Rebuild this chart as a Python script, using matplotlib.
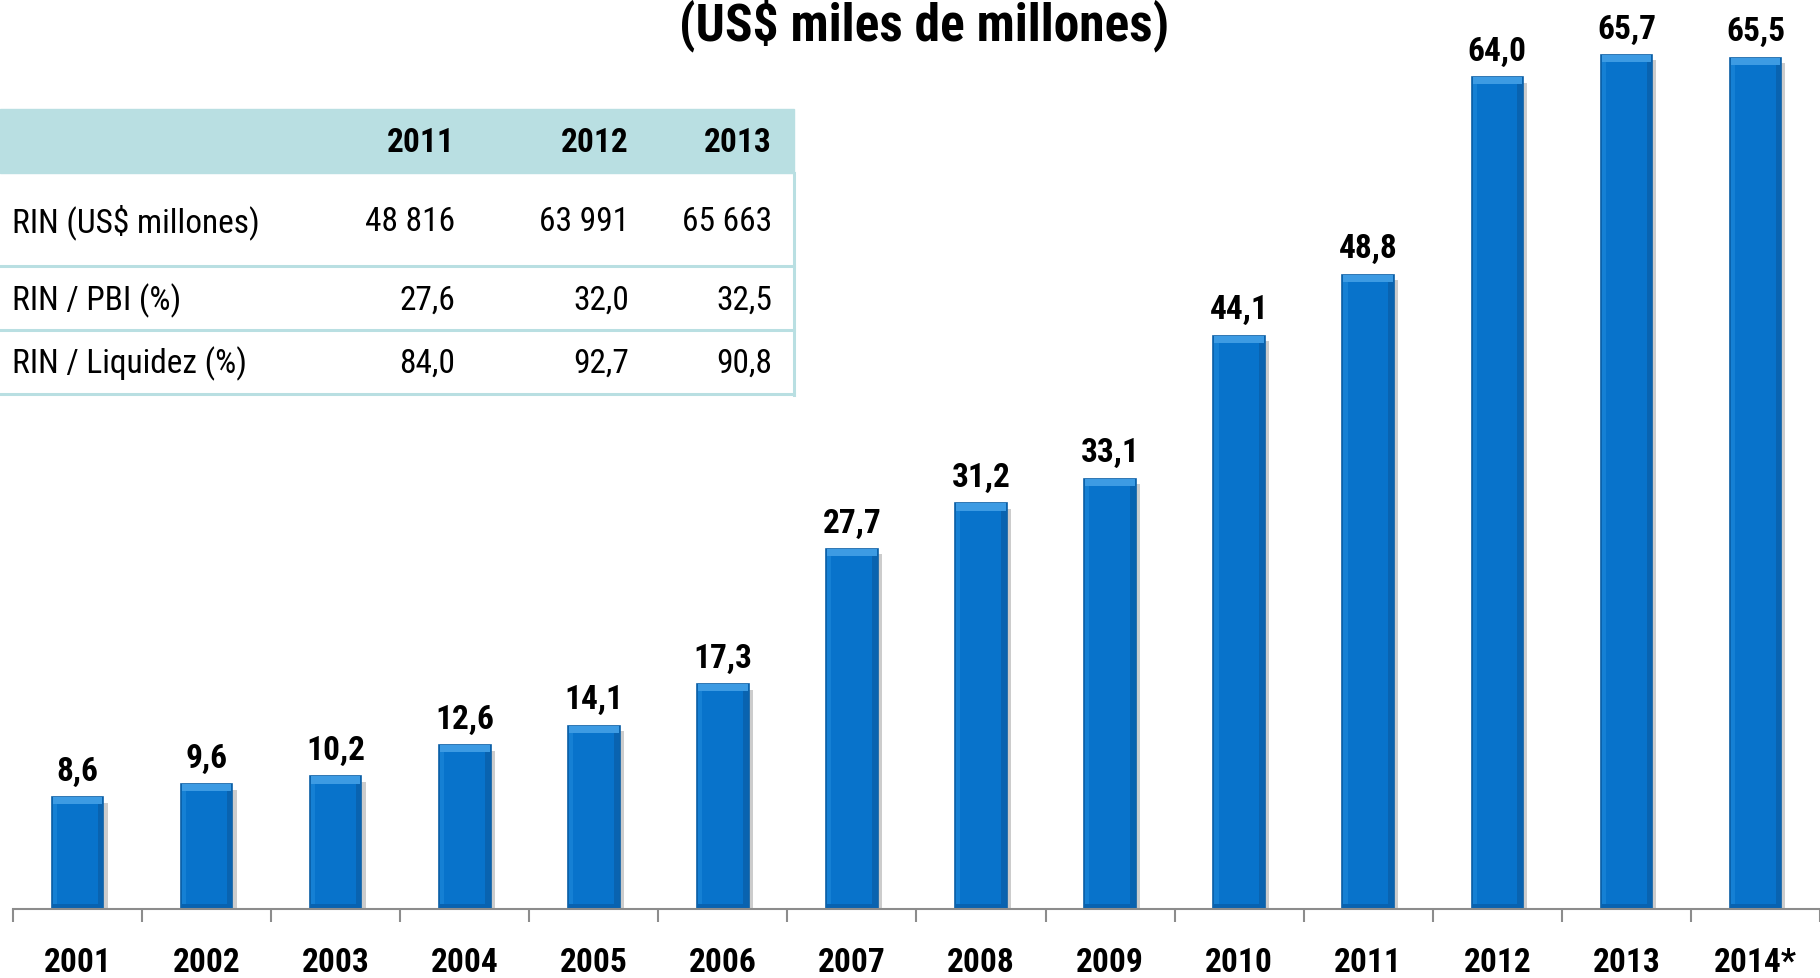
import matplotlib
matplotlib.use("Agg")
import os
import matplotlib.pyplot as plt
import matplotlib.patheffects as pe
from matplotlib.patches import Rectangle
from matplotlib.lines import Line2D
from matplotlib import font_manager
from matplotlib.font_manager import FontProperties

# --- data -------------------------------------------------------------
years = ["2001", "2002", "2003", "2004", "2005", "2006", "2007",
         "2008", "2009", "2010", "2011", "2012", "2013", "2014*"]
reserves = [8.6, 9.6, 10.2, 12.6, 14.1, 17.3, 27.7,
            31.2, 33.1, 44.1, 48.8, 64.0, 65.7, 65.5]

table_years = ["2011", "2012", "2013"]
table_labels = ["RIN (US$ millones)", "RIN / PBI (%)", "RIN / Liquidez (%)"]
rin_millones = ["48 816", "63 991", "65 663"]
rin_pbi = ["27,6", "32,0", "32,5"]
rin_liquidez = ["84,0", "92,7", "90,8"]

title = "(US$ miles de millones)"

# --- fonts: prefer a narrow sans face -------------------------------
files = [f.fname for f in font_manager.fontManager.ttflist]


def pick(patterns):
    for pat in patterns:
        for fn in files:
            if os.path.basename(fn).lower().replace("_", "").replace("-", "") == pat:
                return fn
    return None


bold_file = pick(["liberationsansnarrowbold.ttf", "robotocondensedbold.ttf",
                  "opensanscondensedbold.ttf", "dejavusanscondensedbold.ttf"])
reg_file = pick(["liberationsansnarrowregular.ttf", "robotocondensedregular.ttf",
                 "opensanscondensedlight.ttf", "dejavusanscondensed.ttf"])


def fp(size, bold=False):
    f = bold_file if bold else reg_file
    if f:
        return FontProperties(fname=f, size=size)
    return FontProperties(family="DejaVu Sans", size=size,
                          weight="bold" if bold else "normal", stretch="condensed")


W, H = 1820, 979
fig = plt.figure(figsize=(W / 100, H / 100), dpi=100)


def fx(px):
    return px / W


def fy(py):
    return 1 - py / H


# --- bars -------------------------------------------------------------
base_y = 910
ax = fig.add_axes([fx(13), fy(base_y), 1 - fx(13), base_y / H])
ax.set_xlim(-0.5, 13.43)
ax.set_ylim(0, 70)

x = list(range(len(years)))
bar_w = 0.4
blue = "#0873CB"
ax.bar(x, reserves, width=bar_w, color=blue, edgecolor="#0B5FA6", linewidth=1.2,
       zorder=2,
       path_effects=[pe.SimplePatchShadow(offset=(3, -4), shadow_rgbFace="#8f8f8f", alpha=0.45),
                     pe.Normal()])
# bevel: light top band, lighter left strip, darker right strip and bottom band
bevel = 0.55
ax.bar(x, [bevel] * len(x), bottom=[v - bevel for v in reserves], width=bar_w * 0.96,
       color="#3D9BE3", linewidth=0, zorder=3)
ax.bar([i - bar_w * 0.44 for i in x], [v - bevel for v in reserves], width=bar_w * 0.08,
       color="#1580D4", linewidth=0, zorder=3)
ax.bar([i + bar_w * 0.44 for i in x], [v - bevel for v in reserves], width=bar_w * 0.1,
       color="#0963B0", linewidth=0, zorder=3)
ax.bar(x, [0.35] * len(x), width=bar_w * 0.96, color="#0862B0", linewidth=0, zorder=3)

for xi, v in zip(x, reserves):
    ax.annotate(f"{v:.1f}".replace(".", ","), (xi, v), xytext=(0, 12.5),
                textcoords="offset points", ha="center", va="baseline",
                fontproperties=fp(24, True), color="black")

for s in ["top", "right", "left"]:
    ax.spines[s].set_visible(False)
ax.spines["bottom"].set_color("#8C8C8C")
ax.spines["bottom"].set_linewidth(1.5)
ax.spines["bottom"].set_zorder(4)
ax.set_yticks([])
ax.set_xticks(x)
ax.set_xticklabels(years, fontproperties=fp(24, True))
ax.tick_params(axis="x", which="major", length=0, pad=27)
ax.set_xticks([i - 0.5 for i in range(len(years) + 1)], minor=True)
ax.tick_params(axis="x", which="minor", length=9, width=1.5, color="#8C8C8C", direction="out")

fig.text(fx(924), fy(40), title, ha="center", va="baseline",
         fontproperties=fp(37, True))

# --- table ------------------------------------------------------------
teal = "#B9DFE2"
tbl_right = 794
fig.add_artist(Rectangle((0, fy(174)), fx(tbl_right), fy(110) - fy(174),
                         transform=fig.transFigure, color=teal, zorder=5))
for yl in [267, 331, 395]:
    fig.add_artist(Line2D([0, fx(tbl_right)], [fy(yl), fy(yl)],
                          transform=fig.transFigure, color=teal, lw=2.2, zorder=5))
fig.add_artist(Line2D([fx(tbl_right), fx(tbl_right)], [fy(174), fy(396)],
                      transform=fig.transFigure, color=teal, lw=2.2, zorder=5))

col_right = [455, 629, 772]
for cx, yr in zip(col_right, table_years):
    fig.text(fx(cx), fy(143), yr, ha="right", va="center",
             fontproperties=fp(24, True), zorder=6)

row_y = [222, 301, 364]
for ry, lab, vals in zip(row_y, table_labels, [rin_millones, rin_pbi, rin_liquidez]):
    fig.text(fx(12), fy(ry), lab, ha="left", va="center", fontproperties=fp(24), zorder=6)
    for cx, v in zip(col_right, vals):
        fig.text(fx(cx), fy(ry), v, ha="right", va="center", fontproperties=fp(24), zorder=6)

fig.savefig("out.png", dpi=100)
